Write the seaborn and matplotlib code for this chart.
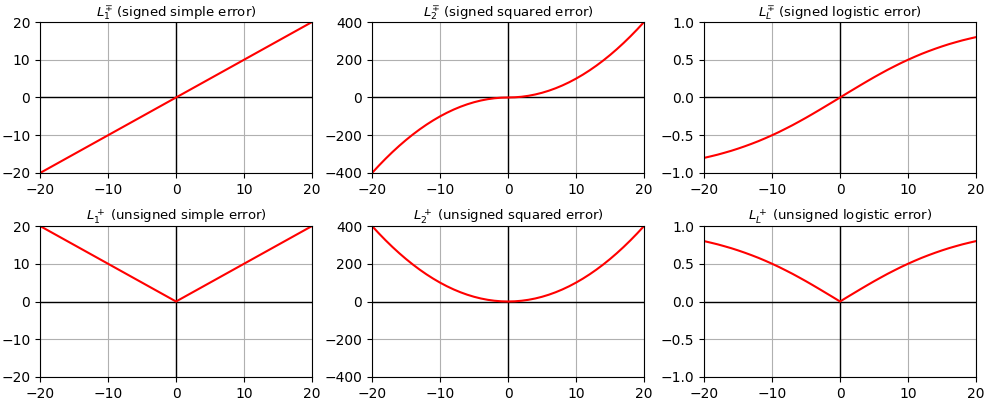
import matplotlib
matplotlib.use("Agg")
import matplotlib.pyplot as plt
import seaborn as sns
import pandas as pd

sns.set_style("white")
plt.rcParams["font.family"] = ["DejaVu Sans"]
plt.rcParams["mathtext.fontset"] = "dejavusans"
plt.rcParams["axes.unicode_minus"] = True
plt.rcParams["text.color"] = "black"
plt.rcParams["axes.titlecolor"] = "black"

# error values (x), one unit apart
x_err = [-20, -19, -18, -17, -16, -15, -14, -13, -12, -11, -10,
         -9, -8, -7, -6, -5, -4, -3, -2, -1, 0,
         1, 2, 3, 4, 5, 6, 7, 8, 9, 10,
         11, 12, 13, 14, 15, 16, 17, 18, 19, 20]

# loss values per error
simple_signed = [-20, -19, -18, -17, -16, -15, -14, -13, -12, -11, -10,
                 -9, -8, -7, -6, -5, -4, -3, -2, -1, 0,
                 1, 2, 3, 4, 5, 6, 7, 8, 9, 10,
                 11, 12, 13, 14, 15, 16, 17, 18, 19, 20]
squared_signed = [-400, -361, -324, -289, -256, -225, -196, -169, -144, -121, -100,
                  -81, -64, -49, -36, -25, -16, -9, -4, -1, 0,
                  1, 4, 9, 16, 25, 36, 49, 64, 81, 100,
                  121, 144, 169, 196, 225, 256, 289, 324, 361, 400]
logistic_signed = [-0.800, -0.779, -0.757, -0.732, -0.706, -0.677, -0.646, -0.613,
                   -0.578, -0.540, -0.500, -0.458, -0.413, -0.367, -0.318, -0.268,
                   -0.216, -0.163, -0.109, -0.055, 0.0,
                   0.055, 0.109, 0.163, 0.216, 0.268, 0.318, 0.367, 0.413, 0.458,
                   0.500, 0.540, 0.578, 0.613, 0.646, 0.677, 0.706, 0.732, 0.757,
                   0.779, 0.800]
simple_unsigned = [20, 19, 18, 17, 16, 15, 14, 13, 12, 11, 10,
                   9, 8, 7, 6, 5, 4, 3, 2, 1, 0,
                   1, 2, 3, 4, 5, 6, 7, 8, 9, 10,
                   11, 12, 13, 14, 15, 16, 17, 18, 19, 20]
squared_unsigned = [400, 361, 324, 289, 256, 225, 196, 169, 144, 121, 100,
                    81, 64, 49, 36, 25, 16, 9, 4, 1, 0,
                    1, 4, 9, 16, 25, 36, 49, 64, 81, 100,
                    121, 144, 169, 196, 225, 256, 289, 324, 361, 400]
logistic_unsigned = [0.800, 0.779, 0.757, 0.732, 0.706, 0.677, 0.646, 0.613,
                     0.578, 0.540, 0.500, 0.458, 0.413, 0.367, 0.318, 0.268,
                     0.216, 0.163, 0.109, 0.055, 0.0,
                     0.055, 0.109, 0.163, 0.216, 0.268, 0.318, 0.367, 0.413, 0.458,
                     0.500, 0.540, 0.578, 0.613, 0.646, 0.677, 0.706, 0.732, 0.757,
                     0.779, 0.800]

titles = [
    r"$L_1^{\mp}$ (signed simple error)",
    r"$L_2^{\mp}$ (signed squared error)",
    r"$L_L^{\mp}$ (signed logistic error)",
    r"$L_1^+$ (unsigned simple error)",
    r"$L_2^+$ (unsigned squared error)",
    r"$L_L^+$ (unsigned logistic error)",
]
series = [simple_signed, squared_signed, logistic_signed,
          simple_unsigned, squared_unsigned, logistic_unsigned]
y_limits = [20, 400, 1.0, 20, 400, 1.0]
y_ticks = [
    [-20, -10, 0, 10, 20],
    [-400, -200, 0, 200, 400],
    [-1.0, -0.5, 0.0, 0.5, 1.0],
    [-20, -10, 0, 10, 20],
    [-400, -200, 0, 200, 400],
    [-1.0, -0.5, 0.0, 0.5, 1.0],
]
x_ticks = [-20, -10, 0, 10, 20]


def fmt(v, decimals):
    s = f"{v:.{decimals}f}"
    return s.replace("-", "\u2212")


fig, axes = plt.subplots(2, 3, figsize=(9.86, 4.0), dpi=100)
fig.subplots_adjust(left=0.0406, right=0.9899, top=0.945, bottom=0.0575,
                    wspace=0.2206, hspace=0.351)

for ax, title, vals, lim, yt in zip(axes.flat, titles, series, y_limits, y_ticks):
    df = pd.DataFrame({"error": x_err, "loss": vals})
    ax.grid(True, color="#b0b0b0", linewidth=0.8)
    ax.set_axisbelow(True)
    ax.axhline(0, color="black", linewidth=1.0, zorder=1.5)
    ax.axvline(0, color="black", linewidth=1.0, zorder=1.5)
    sns.lineplot(data=df, x="error", y="loss", color="red", linewidth=1.5,
                 ax=ax, zorder=2)
    ax.set_xlim(-20, 20)
    ax.set_ylim(-lim, lim)
    ax.set_xticks(x_ticks)
    ax.set_xticklabels([fmt(v, 0) for v in x_ticks])
    ax.set_yticks(yt)
    ax.set_yticklabels([fmt(v, 1 if lim == 1.0 else 0) for v in yt])
    ax.set_xlabel("")
    ax.set_ylabel("")
    ax.set_title(title, fontsize=9.5, pad=4, color="black")
    ax.tick_params(axis="both", direction="out", length=3.5, width=0.8,
                   labelsize=10, bottom=True, left=True, colors="black")
    for s in ax.spines.values():
        s.set_color("black")
        s.set_linewidth(0.8)

fig.savefig("out.png", dpi=100)
